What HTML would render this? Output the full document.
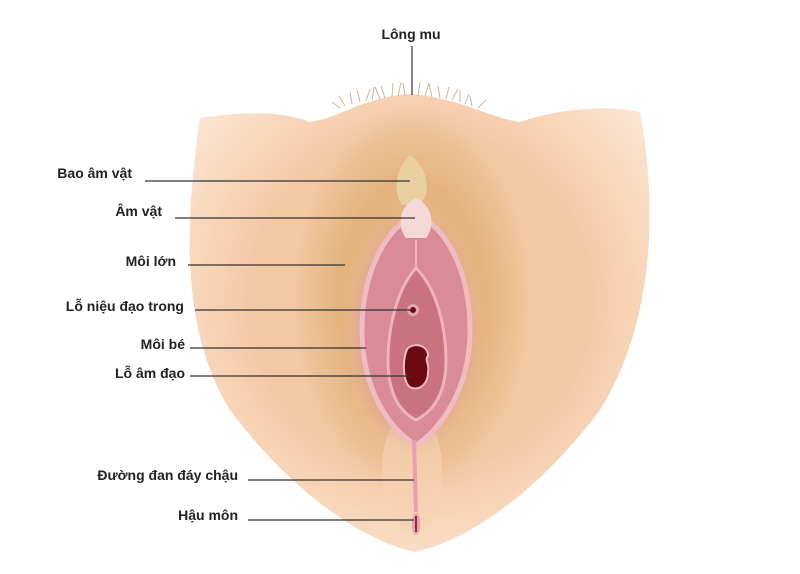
<!DOCTYPE html>
<html><head><meta charset="utf-8"><style>
body{margin:0;background:#fff;width:800px;height:574px;overflow:hidden}
svg{display:block}
text{font-family:"Liberation Sans",sans-serif;font-size:14px;fill:#222;font-weight:bold}
</style></head><body>
<svg width="800" height="574" viewBox="0 0 800 574">
<defs>
<radialGradient id="skin" cx="0.5" cy="0.45" r="0.6">
<stop offset="0" stop-color="#f6c9a4"/><stop offset="0.6" stop-color="#f4c8a3"/><stop offset="1" stop-color="#fbe3cf"/>
</radialGradient>
<radialGradient id="fold" cx="0.5" cy="0.5" r="0.5">
<stop offset="0.6" stop-color="#e2b27c"/><stop offset="0.85" stop-color="#e8bb8a" stop-opacity="0.6"/><stop offset="1" stop-color="#f4c8a3" stop-opacity="0"/>
</radialGradient>
<radialGradient id="maj" cx="0.5" cy="0.5" r="0.5">
<stop offset="0.7" stop-color="#dc9e94"/><stop offset="1" stop-color="#eab79c" stop-opacity="0"/>
</radialGradient>
</defs>
<path d="M200,118 C240,112 280,110 310,122 C340,118 360,98 410,94 C460,98 490,118 520,122 C560,108 610,105 640,112 C660,220 650,330 600,410 C540,490 470,540 415,552 C360,540 290,490 230,410 C180,330 185,220 200,118 Z" fill="url(#skin)"/>
<ellipse cx="412" cy="300" rx="125" ry="200" fill="url(#fold)" opacity="0.9"/>
<ellipse cx="412" cy="470" rx="30" ry="60" fill="#f6d2b4" opacity="0.7"/>
<ellipse cx="414" cy="330" rx="70" ry="125" fill="url(#maj)"/>
<path d="M410,155 C428,168 432,192 420,205 L402,205 C392,192 396,168 410,155Z" fill="#ead0a0"/>
<path d="M416,215 C445,225 470,270 470,330 C470,390 440,430 416,445 C390,430 362,390 362,330 C362,270 388,225 416,215Z" fill="#d98c96" stroke="#f0bcc4" stroke-width="5"/>
<path d="M416,198 C432,205 436,225 426,238 L406,238 C396,225 400,205 416,198Z" fill="#f6dada"/>
<path d="M416,268 C438,290 446,330 446,360 C446,395 432,412 416,420 C400,412 388,395 388,360 C388,330 396,290 416,268Z" fill="#c9737f" stroke="#eeb3bc" stroke-width="3"/>
<path d="M416,240 L416,268" stroke="#eeb3bc" stroke-width="2"/>
<circle cx="413" cy="310" r="6" fill="#e8a6ae"/><circle cx="413" cy="310" r="3" fill="#6b0f1a"/>
<path d="M408,348 C416,342 428,346 428,356 C424,360 430,364 428,372 C428,384 420,390 412,388 C402,386 402,356 408,348Z" fill="#6b0a14" stroke="#f0b8c0" stroke-width="2"/>
<path d="M414,440 L416,512" stroke="#e8a0b0" stroke-width="4"/>
<ellipse cx="416" cy="524" rx="4" ry="11" fill="#e8a0b0"/><path d="M416,516 L416,532" stroke="#6b0f1a" stroke-width="1.5"/>
<g stroke="#c4a080" stroke-width="1" fill="none" opacity="0.8">
<path d="M345,106 l-6,-10 M352,104 l-2,-12 M360,102 l-3,-12 M366,101 l4,-12 M372,100 l2,-13 M380,99 l-5,-12 M385,98 l-4,-12 M392,97 l1,-14 M398,96 l3,-14 M405,96 l-2,-13 M418,96 l2,-14 M425,96 l4,-13 M432,97 l-3,-13 M440,98 l-2,-12 M446,99 l3,-12 M452,100 l6,-11 M460,102 l0,-12 M465,104 l4,-10 M472,106 l-2,-10 M478,108 l8,-8 M340,108 l-8,-6"/>
</g>
<g stroke="#333" stroke-width="1.2">
<line x1="412" y1="46" x2="412" y2="95"/>
<line x1="145" y1="181" x2="410" y2="181"/>
<line x1="175" y1="218" x2="415" y2="218"/>
<line x1="188" y1="265" x2="345" y2="265"/>
<line x1="195" y1="310" x2="412" y2="310"/>
<line x1="190" y1="348" x2="366" y2="348"/>
<line x1="190" y1="376" x2="412" y2="376"/>
<line x1="248" y1="480" x2="414" y2="480"/>
<line x1="248" y1="520" x2="414" y2="520"/>
</g>
<text x="411" y="39" text-anchor="middle">Lông mu</text>
<text x="132" y="178" text-anchor="end">Bao âm vật</text>
<text x="162" y="216" text-anchor="end">Âm vật</text>
<text x="176" y="266" text-anchor="end">Môi lớn</text>
<text x="184" y="311" text-anchor="end">Lỗ niệu đạo trong</text>
<text x="185" y="349" text-anchor="end">Môi bé</text>
<text x="185" y="378" text-anchor="end">Lỗ âm đạo</text>
<text x="238" y="480" text-anchor="end">Đường đan đáy chậu</text>
<text x="238" y="520" text-anchor="end">Hậu môn</text>
</svg>
</body></html>
